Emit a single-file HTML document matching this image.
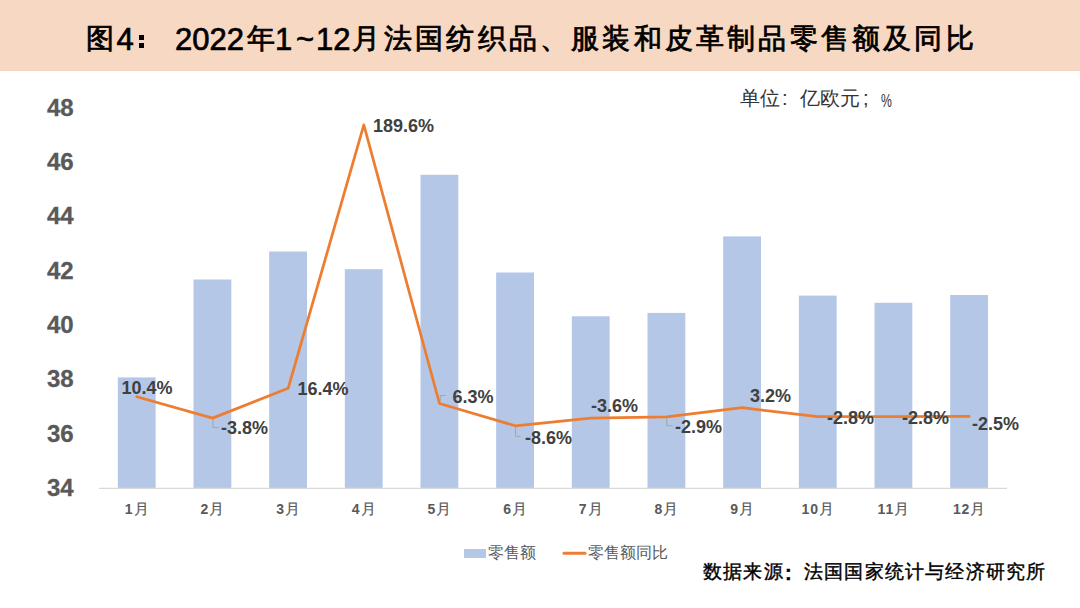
<!DOCTYPE html>
<html><head><meta charset="utf-8">
<style>
html,body{margin:0;padding:0;}
body{width:1080px;height:608px;position:relative;overflow:hidden;background:#fff;font-family:"Liberation Sans",sans-serif;}
#bar{position:absolute;left:0;top:0;width:1080px;height:70px;background:#F7D8C3;border-bottom:1px solid #F5D4BE;}
.t{position:absolute;white-space:nowrap;line-height:1;}
#title span{position:absolute;top:23.5px;line-height:1;white-space:nowrap;color:#000;}
.tc{font-size:28px;letter-spacing:3.2px;-webkit-text-stroke:0.8px #000;top:25px!important}
.tl{font-size:31px;-webkit-text-stroke:0.7px #000;}
.un{top:88px;font-size:20px;color:#333;}
.yl{position:absolute;left:41.7px;-webkit-text-stroke:0.3px #595959;width:32px;text-align:right;font-size:24px;font-weight:bold;color:#595959;line-height:1;}
.xl{position:absolute;width:60px;margin-left:-1px;text-align:center;font-size:14px;letter-spacing:0.9px;padding-left:0.9px;font-weight:bold;color:#595959;line-height:1;}
.dl{position:absolute;font-size:18px;font-weight:bold;color:#404040;line-height:1;white-space:nowrap;}
#leg1{left:488px;top:545px;font-size:16px;color:#595959;}
#leg2{left:588px;top:545px;font-size:16px;color:#595959;}
.sr{top:563px;font-size:18.5px;letter-spacing:1.2px;-webkit-text-stroke:0.4px #000;color:#000;}
svg{position:absolute;left:0;top:0;}
.xl b{font-weight:normal;font-size:15px;letter-spacing:0;-webkit-text-stroke:0.2px #595959;}
</style></head><body>
<div id="bar"></div>
<div id="title">
<span class="m tc" style="left:86px">图</span><span class="m tl" style="left:116.5px">4</span><span class="m" style="left:139px;top:34.5px;width:5.2px;height:5px;background:#000"></span><span class="m" style="left:139px;top:43.3px;width:5.2px;height:5px;background:#000"></span><span class="m tl" style="left:175px">2022</span><span class="m tc" style="left:246.5px">年</span><span class="m tl" style="left:275px">1</span><span class="m tl" style="left:296px;top:24px;-webkit-text-stroke:0.6px #000">~</span><span class="m tl" style="left:316px">12</span><span class="m tc" style="left:352px">月</span><span class="m tc" id="trun" style="left:384px">法国纺织品、服装和皮革制品零售额及同比</span>
</div>
<div class="t m un" style="left:740px">单位</div><div class="t m un" style="left:782px;font-family:'Liberation Sans'">:</div><div class="t m un" style="left:800px">亿欧元</div><div class="t m un" style="left:863px;font-family:'Liberation Sans'">;</div><div class="t m un" style="left:881px;font-size:18.5px;transform:scaleX(0.66);transform-origin:0 0;top:92px">%</div>

<svg width="1080" height="608" viewBox="0 0 1080 608">
  <g fill="#B4C7E7">
    <rect x="117.83" y="377.4" width="37.83" height="111"/>
    <rect x="193.5" y="279.5" width="37.83" height="208.9"/>
    <rect x="269.17" y="251.5" width="37.83" height="236.9"/>
    <rect x="344.83" y="269.2" width="37.83" height="219.2"/>
    <rect x="420.5" y="174.8" width="37.83" height="313.6"/>
    <rect x="496.17" y="272.5" width="37.83" height="215.9"/>
    <rect x="571.83" y="316.3" width="37.83" height="172.1"/>
    <rect x="647.5" y="312.9" width="37.83" height="175.5"/>
    <rect x="723.17" y="236.4" width="37.83" height="252"/>
    <rect x="798.83" y="295.6" width="37.83" height="192.8"/>
    <rect x="874.5" y="302.8" width="37.83" height="185.6"/>
    <rect x="950.17" y="295" width="37.83" height="193.4"/>
  </g>
  <line x1="99" y1="488.4" x2="1007" y2="488.4" stroke="#D9D9D9" stroke-width="1.3"/>
  <g fill="none" stroke="#A6A6A6" stroke-width="1">
    <polyline points="213,419 213,427.5 218.7,427.5"/>
    <polyline points="440.3,401 440.3,395.5 446,395.5"/>
    <polyline points="515.6,426 515.6,436.4 520.8,436.4"/>
    <polyline points="666.7,417 666.7,425.8 672.7,425.8"/>
  </g>
  <polyline fill="none" stroke="#ED7D31" stroke-width="2.75" stroke-linejoin="round" stroke-linecap="round" points="136.83,396.7 212.5,418.1 288.17,388.3 363.83,124.9 439.5,403.5 515.17,425.8 590.83,418.1 666.5,416.9 742.17,407.7 817.83,416.7 893.5,416.7 969.17,416.4"/>
  <rect x="464" y="549" width="22" height="9" fill="#B4C7E7"/>
  <line x1="564" y1="553.3" x2="585" y2="553.3" stroke="#ED7D31" stroke-width="3" stroke-linecap="round"/>
</svg>

<div class="yl" style="top:96px">48</div>
<div class="yl" style="top:150px">46</div>
<div class="yl" style="top:204px">44</div>
<div class="yl" style="top:259px">42</div>
<div class="yl" style="top:313px">40</div>
<div class="yl" style="top:367px">38</div>
<div class="yl" style="top:422px">36</div>
<div class="yl" style="top:476px">34</div>

<div class="xl" style="left:106.8px;top:500.6px">1<b>月</b></div>
<div class="xl" style="left:182.5px;top:500.6px">2<b>月</b></div>
<div class="xl" style="left:258.2px;top:500.6px">3<b>月</b></div>
<div class="xl" style="left:333.8px;top:500.6px">4<b>月</b></div>
<div class="xl" style="left:409.5px;top:500.6px">5<b>月</b></div>
<div class="xl" style="left:485.2px;top:500.6px">6<b>月</b></div>
<div class="xl" style="left:560.8px;top:500.6px">7<b>月</b></div>
<div class="xl" style="left:636.5px;top:500.6px">8<b>月</b></div>
<div class="xl" style="left:712.2px;top:500.6px">9<b>月</b></div>
<div class="xl" style="left:787.8px;top:500.6px">10<b>月</b></div>
<div class="xl" style="left:863.5px;top:500.6px">11<b>月</b></div>
<div class="xl" style="left:939.2px;top:500.6px">12<b>月</b></div>

<div class="dl" style="left:121.5px;top:378.5px">10.4%</div>
<div class="dl" style="left:221px;top:419px">-3.8%</div>
<div class="dl" style="left:297.5px;top:379.5px">16.4%</div>
<div class="dl" style="left:373px;top:117px">189.6%</div>
<div class="dl" style="left:452.5px;top:387.7px">6.3%</div>
<div class="dl" style="left:525px;top:429px">-8.6%</div>
<div class="dl" style="left:591px;top:397px">-3.6%</div>
<div class="dl" style="left:675px;top:418px">-2.9%</div>
<div class="dl" style="left:750px;top:387px">3.2%</div>
<div class="dl" style="left:827px;top:409px">-2.8%</div>
<div class="dl" style="left:902px;top:409px">-2.8%</div>
<div class="dl" style="left:972px;top:415px">-2.5%</div>

<div class="t" id="leg1">零售额</div>
<div class="t" id="leg2">零售额同比</div>
<div class="t m sr" style="left:703px">数据来源</div><div class="t m sr" style="left:785px;font-family:'Liberation Sans';font-size:20px;font-weight:bold;top:563px">:</div><div class="t m sr" style="left:804px">法国国家统计与经济研究所</div>
</body></html>
